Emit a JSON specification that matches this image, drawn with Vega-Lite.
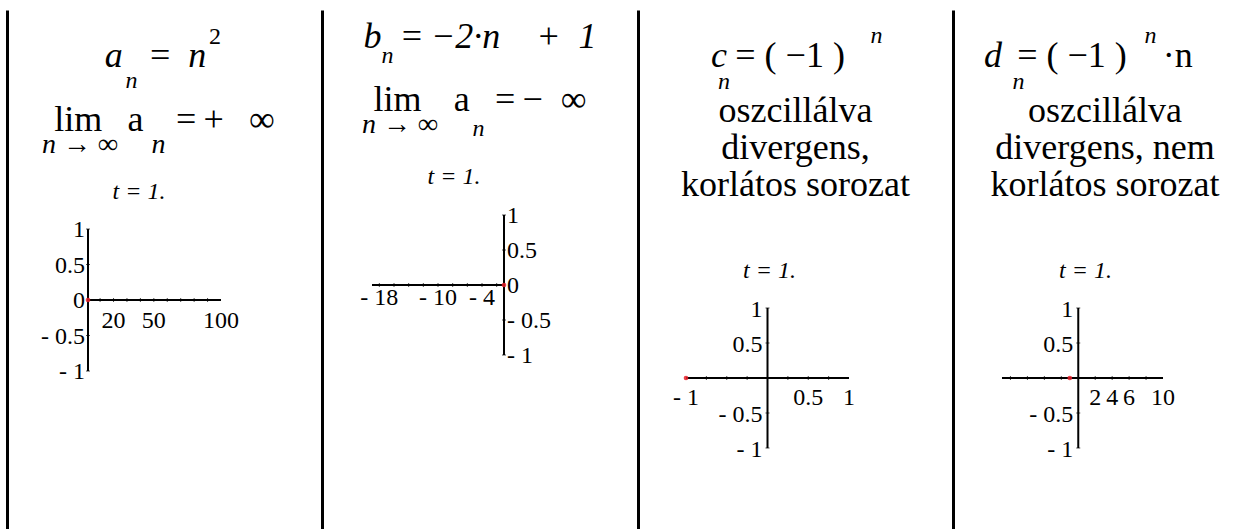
{
  "$schema": "https://vega.github.io/schema/vega-lite/v6.json",
  "background": "white",
  "padding": {"left": 7, "top": 10, "right": 0, "bottom": 0},
  "spacing": 0,
  "bounds": "flush",
  "config": {
    "view": {"stroke": null},
    "title": {"font": "Liberation Serif", "fontWeight": "normal", "color": "black", "subtitleFont": "Liberation Serif", "subtitleFontWeight": "normal", "subtitleColor": "black", "anchor": "middle", "frame": "group", "offset": 0},
    "text": {"font": "Liberation Serif", "fontSize": 24, "color": "black"},
    "axis": {"titleFont": "Liberation Serif", "titleFontWeight": "normal", "titleColor": "black", "titleAngle": 0, "titleAlign": "center", "titleBaseline": "alphabetic", "grid": false, "domain": false, "ticks": false, "labels": false}
  },
  "datasets": {
    "seq_a": [
      {"kind": "axis", "x": 1, "x2": 100, "y": 0, "y2": 0},
      {"kind": "axis", "x": 1, "x2": 1, "y": -1, "y2": 1},
      {"kind": "xtick", "x": 10, "y": 0}, {"kind": "xtick", "x": 20, "y": 0}, {"kind": "xtick", "x": 30, "y": 0},
      {"kind": "xtick", "x": 40, "y": 0}, {"kind": "xtick", "x": 50, "y": 0}, {"kind": "xtick", "x": 60, "y": 0},
      {"kind": "xtick", "x": 70, "y": 0}, {"kind": "xtick", "x": 80, "y": 0}, {"kind": "xtick", "x": 90, "y": 0},
      {"kind": "ytick", "x": 1, "y": -1}, {"kind": "ytick", "x": 1, "y": -0.5}, {"kind": "ytick", "x": 1, "y": 0.5}, {"kind": "ytick", "x": 1, "y": 1},
      {"kind": "xlab", "x": 20, "y": 0, "label": "20"},
      {"kind": "xlab", "x": 50, "y": 0, "label": "50"},
      {"kind": "xlab", "x": 100, "y": 0, "label": "100"},
      {"kind": "ylab", "x": 1, "y": 1, "label": "1"},
      {"kind": "ylab", "x": 1, "y": 0.5, "label": "0.5"},
      {"kind": "ylab", "x": 1, "y": 0, "label": "0"},
      {"kind": "ylab", "x": 1, "y": -0.5, "label": "- 0.5"},
      {"kind": "ylab", "x": 1, "y": -1, "label": "- 1"},
      {"kind": "term", "n": 1, "x": 1, "y": 0}
    ],
    "seq_b": [
      {"kind": "axis", "x": -19, "x2": -1, "y": 0, "y2": 0},
      {"kind": "axis", "x": -1, "x2": -1, "y": -1, "y2": 1},
      {"kind": "xtick", "x": -18, "y": 0}, {"kind": "xtick", "x": -16, "y": 0}, {"kind": "xtick", "x": -14, "y": 0},
      {"kind": "xtick", "x": -12, "y": 0}, {"kind": "xtick", "x": -10, "y": 0}, {"kind": "xtick", "x": -8, "y": 0},
      {"kind": "xtick", "x": -6, "y": 0}, {"kind": "xtick", "x": -4, "y": 0}, {"kind": "xtick", "x": -2, "y": 0},
      {"kind": "ytick", "x": -1, "y": -1}, {"kind": "ytick", "x": -1, "y": -0.5}, {"kind": "ytick", "x": -1, "y": 0.5}, {"kind": "ytick", "x": -1, "y": 1},
      {"kind": "xlab", "x": -18, "y": 0, "label": "- 18"},
      {"kind": "xlab", "x": -10, "y": 0, "label": "- 10"},
      {"kind": "xlab", "x": -4, "y": 0, "label": "- 4"},
      {"kind": "ylab", "x": -1, "y": 1, "label": "1"},
      {"kind": "ylab", "x": -1, "y": 0.5, "label": "0.5"},
      {"kind": "ylab", "x": -1, "y": 0, "label": "0"},
      {"kind": "ylab", "x": -1, "y": -0.5, "label": "- 0.5"},
      {"kind": "ylab", "x": -1, "y": -1, "label": "- 1"},
      {"kind": "term", "n": 1, "x": -1, "y": 0}
    ],
    "seq_c": [
      {"kind": "axis", "x": -1, "x2": 1, "y": 0, "y2": 0},
      {"kind": "axis", "x": 0, "x2": 0, "y": -1, "y2": 1},
      {"kind": "xtick", "x": -0.75, "y": 0}, {"kind": "xtick", "x": -0.5, "y": 0}, {"kind": "xtick", "x": -0.25, "y": 0},
      {"kind": "xtick", "x": 0.25, "y": 0}, {"kind": "xtick", "x": 0.5, "y": 0}, {"kind": "xtick", "x": 0.75, "y": 0},
      {"kind": "ytick", "x": 0, "y": -1}, {"kind": "ytick", "x": 0, "y": -0.5}, {"kind": "ytick", "x": 0, "y": 0.5}, {"kind": "ytick", "x": 0, "y": 1},
      {"kind": "xlab", "x": -1, "y": 0, "label": "- 1"},
      {"kind": "xlab", "x": 0.5, "y": 0, "label": "0.5"},
      {"kind": "xlab", "x": 1, "y": 0, "label": "1"},
      {"kind": "ylab", "x": 0, "y": 1, "label": "1"},
      {"kind": "ylab", "x": 0, "y": 0.5, "label": "0.5"},
      {"kind": "ylab", "x": 0, "y": -0.5, "label": "- 0.5"},
      {"kind": "ylab", "x": 0, "y": -1, "label": "- 1"},
      {"kind": "term", "n": 1, "x": -1, "y": 0}
    ],
    "seq_d": [
      {"kind": "axis", "x": -9, "x2": 10, "y": 0, "y2": 0},
      {"kind": "axis", "x": 0, "x2": 0, "y": -1, "y2": 1},
      {"kind": "xtick", "x": -8, "y": 0}, {"kind": "xtick", "x": -6, "y": 0}, {"kind": "xtick", "x": -4, "y": 0},
      {"kind": "xtick", "x": -2, "y": 0}, {"kind": "xtick", "x": 2, "y": 0}, {"kind": "xtick", "x": 4, "y": 0},
      {"kind": "xtick", "x": 6, "y": 0}, {"kind": "xtick", "x": 8, "y": 0},
      {"kind": "ytick", "x": 0, "y": -1}, {"kind": "ytick", "x": 0, "y": -0.5}, {"kind": "ytick", "x": 0, "y": 0.5}, {"kind": "ytick", "x": 0, "y": 1},
      {"kind": "xlab", "x": 2, "y": 0, "label": "2"},
      {"kind": "xlab", "x": 4, "y": 0, "label": "4"},
      {"kind": "xlab", "x": 6, "y": 0, "label": "6"},
      {"kind": "xlab", "x": 10, "y": 0, "label": "10"},
      {"kind": "ylab", "x": 0, "y": 1, "label": "1"},
      {"kind": "ylab", "x": 0, "y": 0.5, "label": "0.5"},
      {"kind": "ylab", "x": 0, "y": -0.5, "label": "- 0.5"},
      {"kind": "ylab", "x": 0, "y": -1, "label": "- 1"},
      {"kind": "term", "n": 1, "x": -1, "y": 0}
    ]
  },
  "hconcat": [
    {
      "width": 315, "height": 519,
      "data": {"name": "seq_a"},
      "title": {"text": "a\u2002\u2009=\u2009 n\u2002\u200B", "subtitle": "lim\u2002\u2009a\u2002\u2009\u2009=\u2009+\u2002\u2009∞", "fontSize": 36, "fontStyle": "italic", "subtitleFontSize": 36, "subtitlePadding": 28, "dy": 133},
      "resolve": {"axis": {"x": "independent", "y": "independent"}},
      "layer": [
        {"transform": [{"filter": "datum.kind === 'axis'"}], "mark": {"type": "rule", "color": "black", "strokeWidth": 2},
         "encoding": {
           "x": {"field": "x", "type": "quantitative", "scale": {"domain": [-59.29, 175.18], "nice": false, "zero": false},
                 "axis": {"orient": "top", "title": "t = 1.", "titleFontStyle": "italic", "titleFontSize": 24, "titleX": 131.5, "titleY": 188}},
           "y": {"field": "y", "type": "quantitative", "scale": {"domain": [-3.225, 4.085], "nice": false, "zero": false},
                 "axis": {"orient": "left", "domain": true, "domainColor": "black", "domainWidth": 3, "title": "n", "titleFontStyle": "italic", "titleFontSize": 24, "titleX": 124, "titleY": 77}},
           "x2": {"field": "x2"}, "y2": {"field": "y2"}}},
        {"transform": [{"filter": "datum.kind === 'xtick'"}], "mark": {"type": "tick", "orient": "vertical", "size": 4, "thickness": 1, "color": "black"},
         "encoding": {
           "x": {"field": "x", "type": "quantitative", "scale": {"domain": [-59.29, 175.18], "nice": false, "zero": false},
                 "axis": {"orient": "bottom", "title": "2", "titleFontSize": 24, "titleX": 207.5, "titleY": -486}},
           "y": {"field": "y", "type": "quantitative", "scale": {"domain": [-3.225, 4.085], "nice": false, "zero": false},
                 "axis": {"orient": "right", "title": "n → ∞\u2003\u2009n", "titleFontStyle": "italic", "titleFontSize": 28, "titleAlign": "left", "titleX": -280.5, "titleY": 142}}}},
        {"transform": [{"filter": "datum.kind === 'ytick'"}], "mark": {"type": "tick", "orient": "horizontal", "size": 4, "thickness": 1, "color": "black"},
         "encoding": {
           "x": {"field": "x", "type": "quantitative", "scale": {"domain": [-59.29, 175.18], "nice": false, "zero": false}, "axis": null},
           "y": {"field": "y", "type": "quantitative", "scale": {"domain": [-3.225, 4.085], "nice": false, "zero": false}, "axis": null}}},
        {"transform": [{"filter": "datum.kind === 'xlab'"}], "mark": {"type": "text", "align": "center", "baseline": "alphabetic", "dy": 28},
         "encoding": {
           "x": {"field": "x", "type": "quantitative", "scale": {"domain": [-59.29, 175.18], "nice": false, "zero": false}, "axis": null},
           "y": {"field": "y", "type": "quantitative", "scale": {"domain": [-3.225, 4.085], "nice": false, "zero": false}, "axis": null},
           "text": {"field": "label"}}},
        {"transform": [{"filter": "datum.kind === 'ylab'"}], "mark": {"type": "text", "align": "right", "baseline": "middle", "dx": -3, "dy": 1},
         "encoding": {
           "x": {"field": "x", "type": "quantitative", "scale": {"domain": [-59.29, 175.18], "nice": false, "zero": false}, "axis": null},
           "y": {"field": "y", "type": "quantitative", "scale": {"domain": [-3.225, 4.085], "nice": false, "zero": false}, "axis": null},
           "text": {"field": "label"}}},
        {"transform": [{"filter": "datum.kind === 'term'"}], "mark": {"type": "circle", "color": "#e8202a", "size": 22, "opacity": 0.85},
         "encoding": {
           "x": {"field": "x", "type": "quantitative", "scale": {"domain": [-59.29, 175.18], "nice": false, "zero": false}, "axis": null},
           "y": {"field": "y", "type": "quantitative", "scale": {"domain": [-3.225, 4.085], "nice": false, "zero": false}, "axis": null}}}
      ]
    },
    {
      "width": 316, "height": 519,
      "data": {"name": "seq_b"},
      "title": {"text": "b\u2002=\u2009−2·n\u2003+\u20021", "subtitle": "lim\u2002\u2009\u2009a\u2002\u2009=\u2009−\u2002∞", "fontSize": 36, "fontStyle": "italic", "subtitleFontSize": 36, "subtitlePadding": 27, "dy": 113},
      "resolve": {"axis": {"x": "independent", "y": "independent"}},
      "layer": [
        {"transform": [{"filter": "datum.kind === 'axis'"}], "mark": {"type": "rule", "color": "black", "strokeWidth": 2},
         "encoding": {
           "x": {"field": "x", "type": "quantitative", "scale": {"domain": [-25.818, 17.27], "nice": false, "zero": false},
                 "axis": {"orient": "top", "title": "t = 1.", "titleFontStyle": "italic", "titleFontSize": 24, "titleX": 131.5, "titleY": 173}},
           "y": {"field": "y", "type": "quantitative", "scale": {"domain": [-3.486, 3.929], "nice": false, "zero": false},
                 "axis": {"orient": "left", "domain": true, "domainColor": "black", "domainWidth": 3, "title": "n", "titleFontStyle": "italic", "titleFontSize": 24, "titleX": 65, "titleY": 52}},
           "x2": {"field": "x2"}, "y2": {"field": "y2"}}},
        {"transform": [{"filter": "datum.kind === 'xtick'"}], "mark": {"type": "tick", "orient": "vertical", "size": 4, "thickness": 1, "color": "black"},
         "encoding": {
           "x": {"field": "x", "type": "quantitative", "scale": {"domain": [-25.818, 17.27], "nice": false, "zero": false},
                 "axis": {"orient": "bottom", "title": "n", "titleFontStyle": "italic", "titleFontSize": 24, "titleX": 156, "titleY": -394}},
           "y": {"field": "y", "type": "quantitative", "scale": {"domain": [-3.486, 3.929], "nice": false, "zero": false},
                 "axis": {"orient": "right", "title": "n → ∞", "titleFontStyle": "italic", "titleFontSize": 28, "titleAlign": "left", "titleX": -276.5, "titleY": 122}}}},
        {"transform": [{"filter": "datum.kind === 'ytick'"}], "mark": {"type": "tick", "orient": "horizontal", "size": 4, "thickness": 1, "color": "black"},
         "encoding": {
           "x": {"field": "x", "type": "quantitative", "scale": {"domain": [-25.818, 17.27], "nice": false, "zero": false}, "axis": null},
           "y": {"field": "y", "type": "quantitative", "scale": {"domain": [-3.486, 3.929], "nice": false, "zero": false}, "axis": null}}},
        {"transform": [{"filter": "datum.kind === 'xlab'"}], "mark": {"type": "text", "align": "center", "baseline": "alphabetic", "dy": 20},
         "encoding": {
           "x": {"field": "x", "type": "quantitative", "scale": {"domain": [-25.818, 17.27], "nice": false, "zero": false}, "axis": null},
           "y": {"field": "y", "type": "quantitative", "scale": {"domain": [-3.486, 3.929], "nice": false, "zero": false}, "axis": null},
           "text": {"field": "label"}}},
        {"transform": [{"filter": "datum.kind === 'ylab'"}], "mark": {"type": "text", "align": "left", "baseline": "middle", "dx": 3, "dy": 1},
         "encoding": {
           "x": {"field": "x", "type": "quantitative", "scale": {"domain": [-25.818, 17.27], "nice": false, "zero": false}, "axis": null},
           "y": {"field": "y", "type": "quantitative", "scale": {"domain": [-3.486, 3.929], "nice": false, "zero": false}, "axis": null},
           "text": {"field": "label"}}},
        {"transform": [{"filter": "datum.kind === 'term'"}], "mark": {"type": "circle", "color": "#e8202a", "size": 22, "opacity": 0.85},
         "encoding": {
           "x": {"field": "x", "type": "quantitative", "scale": {"domain": [-25.818, 17.27], "nice": false, "zero": false}, "axis": null},
           "y": {"field": "y", "type": "quantitative", "scale": {"domain": [-3.486, 3.929], "nice": false, "zero": false}, "axis": null}}}
      ]
    },
    {
      "width": 315, "height": 519,
      "data": {"name": "seq_c"},
      "title": {"text": "\u200B\u2002\u2009= ( −1 )\u2003\u200B", "subtitle": ["oszcillálva", "divergens,", "korlátos sorozat"], "fontSize": 36, "subtitleFontSize": 36, "subtitleLineHeight": 37, "subtitlePadding": 19, "dy": 198},
      "resolve": {"axis": {"x": "independent", "y": "independent"}},
      "layer": [
        {"transform": [{"filter": "datum.kind === 'axis'"}], "mark": {"type": "rule", "color": "black", "strokeWidth": 2},
         "encoding": {
           "x": {"field": "x", "type": "quantitative", "scale": {"domain": [-1.589, 2.276], "nice": false, "zero": false},
                 "axis": {"orient": "top", "title": "t = 1.", "titleFontStyle": "italic", "titleFontSize": 24, "titleX": 131, "titleY": 267}},
           "y": {"field": "y", "type": "quantitative", "scale": {"domain": [-2.157, 5.257], "nice": false, "zero": false},
                 "axis": {"orient": "left", "domain": true, "domainColor": "black", "domainWidth": 3, "title": "n", "titleFontStyle": "italic", "titleFontSize": 24, "titleX": 85.5, "titleY": 78}},
           "x2": {"field": "x2"}, "y2": {"field": "y2"}}},
        {"transform": [{"filter": "datum.kind === 'xtick'"}], "mark": {"type": "tick", "orient": "vertical", "size": 4, "thickness": 1, "color": "black"},
         "encoding": {
           "x": {"field": "x", "type": "quantitative", "scale": {"domain": [-1.589, 2.276], "nice": false, "zero": false},
                 "axis": {"orient": "bottom", "title": "n", "titleFontStyle": "italic", "titleFontSize": 24, "titleX": 238, "titleY": -487}},
           "y": {"field": "y", "type": "quantitative", "scale": {"domain": [-2.157, 5.257], "nice": false, "zero": false},
                 "axis": {"orient": "right", "title": "c", "titleFontStyle": "italic", "titleFontSize": 36, "titleX": -234.5, "titleY": 56}}}},
        {"transform": [{"filter": "datum.kind === 'ytick'"}], "mark": {"type": "tick", "orient": "horizontal", "size": 4, "thickness": 1, "color": "black"},
         "encoding": {
           "x": {"field": "x", "type": "quantitative", "scale": {"domain": [-1.589, 2.276], "nice": false, "zero": false}, "axis": null},
           "y": {"field": "y", "type": "quantitative", "scale": {"domain": [-2.157, 5.257], "nice": false, "zero": false}, "axis": null}}},
        {"transform": [{"filter": "datum.kind === 'xlab'"}], "mark": {"type": "text", "align": "center", "baseline": "alphabetic", "dy": 27},
         "encoding": {
           "x": {"field": "x", "type": "quantitative", "scale": {"domain": [-1.589, 2.276], "nice": false, "zero": false}, "axis": null},
           "y": {"field": "y", "type": "quantitative", "scale": {"domain": [-2.157, 5.257], "nice": false, "zero": false}, "axis": null},
           "text": {"field": "label"}}},
        {"transform": [{"filter": "datum.kind === 'ylab'"}], "mark": {"type": "text", "align": "right", "baseline": "middle", "dx": -5, "dy": 2},
         "encoding": {
           "x": {"field": "x", "type": "quantitative", "scale": {"domain": [-1.589, 2.276], "nice": false, "zero": false}, "axis": null},
           "y": {"field": "y", "type": "quantitative", "scale": {"domain": [-2.157, 5.257], "nice": false, "zero": false}, "axis": null},
           "text": {"field": "label"}}},
        {"transform": [{"filter": "datum.kind === 'term'"}], "mark": {"type": "circle", "color": "#e8202a", "size": 22, "opacity": 0.85},
         "encoding": {
           "x": {"field": "x", "type": "quantitative", "scale": {"domain": [-1.589, 2.276], "nice": false, "zero": false}, "axis": null},
           "y": {"field": "y", "type": "quantitative", "scale": {"domain": [-2.157, 5.257], "nice": false, "zero": false}, "axis": null}}}
      ]
    },
    {
      "width": 304, "height": 519,
      "data": {"name": "seq_d"},
      "title": {"text": "\u200B\u2002\u2002= ( −1 )\u2003·n\u2003\u200B", "subtitle": ["oszcillálva", "divergens, nem", "korlátos sorozat"], "fontSize": 36, "subtitleFontSize": 36, "subtitleLineHeight": 37, "subtitlePadding": 19, "dy": 198},
      "resolve": {"axis": {"x": "independent", "y": "independent"}},
      "layer": [
        {"transform": [{"filter": "datum.kind === 'axis'"}], "mark": {"type": "rule", "color": "black", "strokeWidth": 2},
         "encoding": {
           "x": {"field": "x", "type": "quantitative", "scale": {"domain": [-14.78, 21.09], "nice": false, "zero": false},
                 "axis": {"orient": "top", "title": "t = 1.", "titleFontStyle": "italic", "titleFontSize": 24, "titleX": 132, "titleY": 267}},
           "y": {"field": "y", "type": "quantitative", "scale": {"domain": [-2.157, 5.257], "nice": false, "zero": false},
                 "axis": {"orient": "left", "domain": true, "domainColor": "black", "domainWidth": 3, "title": "n", "titleFontStyle": "italic", "titleFontSize": 24, "titleX": 65, "titleY": 78}},
           "x2": {"field": "x2"}, "y2": {"field": "y2"}}},
        {"transform": [{"filter": "datum.kind === 'xtick'"}], "mark": {"type": "tick", "orient": "vertical", "size": 4, "thickness": 1, "color": "black"},
         "encoding": {
           "x": {"field": "x", "type": "quantitative", "scale": {"domain": [-14.78, 21.09], "nice": false, "zero": false},
                 "axis": {"orient": "bottom", "title": "n", "titleFontStyle": "italic", "titleFontSize": 24, "titleX": 197, "titleY": -487}},
           "y": {"field": "y", "type": "quantitative", "scale": {"domain": [-2.157, 5.257], "nice": false, "zero": false},
                 "axis": {"orient": "right", "title": "d", "titleFontStyle": "italic", "titleFontSize": 36, "titleX": -264.5, "titleY": 56}}}},
        {"transform": [{"filter": "datum.kind === 'ytick'"}], "mark": {"type": "tick", "orient": "horizontal", "size": 4, "thickness": 1, "color": "black"},
         "encoding": {
           "x": {"field": "x", "type": "quantitative", "scale": {"domain": [-14.78, 21.09], "nice": false, "zero": false}, "axis": null},
           "y": {"field": "y", "type": "quantitative", "scale": {"domain": [-2.157, 5.257], "nice": false, "zero": false}, "axis": null}}},
        {"transform": [{"filter": "datum.kind === 'xlab'"}], "mark": {"type": "text", "align": "center", "baseline": "alphabetic", "dy": 27},
         "encoding": {
           "x": {"field": "x", "type": "quantitative", "scale": {"domain": [-14.78, 21.09], "nice": false, "zero": false}, "axis": null},
           "y": {"field": "y", "type": "quantitative", "scale": {"domain": [-2.157, 5.257], "nice": false, "zero": false}, "axis": null},
           "text": {"field": "label"}}},
        {"transform": [{"filter": "datum.kind === 'ylab'"}], "mark": {"type": "text", "align": "right", "baseline": "middle", "dx": -5, "dy": 2},
         "encoding": {
           "x": {"field": "x", "type": "quantitative", "scale": {"domain": [-14.78, 21.09], "nice": false, "zero": false}, "axis": null},
           "y": {"field": "y", "type": "quantitative", "scale": {"domain": [-2.157, 5.257], "nice": false, "zero": false}, "axis": null},
           "text": {"field": "label"}}},
        {"transform": [{"filter": "datum.kind === 'term'"}], "mark": {"type": "circle", "color": "#e8202a", "size": 22, "opacity": 0.85},
         "encoding": {
           "x": {"field": "x", "type": "quantitative", "scale": {"domain": [-14.78, 21.09], "nice": false, "zero": false}, "axis": null},
           "y": {"field": "y", "type": "quantitative", "scale": {"domain": [-2.157, 5.257], "nice": false, "zero": false}, "axis": null}}}
      ]
    }
  ]
}
